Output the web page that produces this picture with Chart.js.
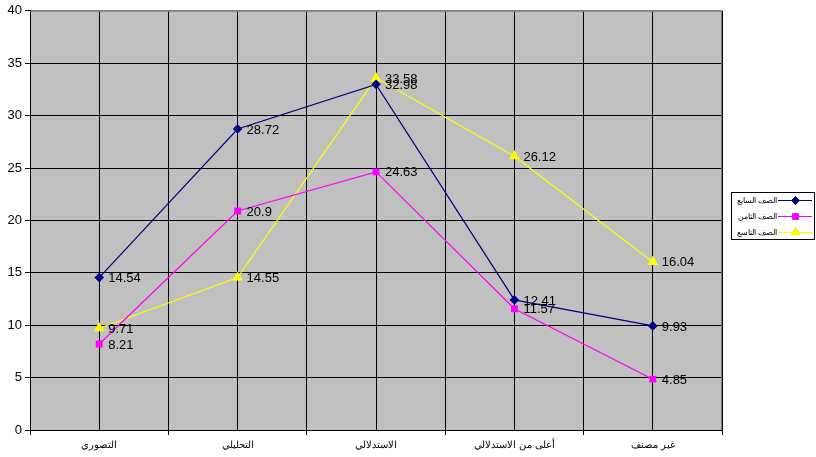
<!DOCTYPE html>
<html>
<head>
<meta charset="utf-8">
<script src="https://cdn.jsdelivr.net/npm/chart.js@4/dist/chart.umd.min.js"></script>
<style>
  html, body { margin: 0; padding: 0; background: #fff; }
  #wrap { width: 816px; height: 457px; }
</style>
</head>
<body>
<div id="wrap"><canvas id="grafico" width="816" height="457"></canvas></div>
<script>
const categorias = ['التصوري', 'التحليلي', 'الاستدلالي', 'أعلى من الاستدلالي', 'غير مصنف'];
const nombres = ['الصف السابع', 'الصف الثامن', 'الصف التاسع'];
const septimo = [14.54, 28.72, 32.98, 12.41, 9.93];
const octavo = [8.21, 20.9, 24.63, 11.57, 4.85];
const noveno = [9.71, 14.55, 33.58, 26.12, 16.04];
const colores = ['#000080', '#FF00FF', '#FFFF00'];
const marcas = ['rectRot', 'rect', 'triangle'];
const radios = [4, 4, 5];

const fuente = 'Arial, "Liberation Sans", sans-serif';

// fondo gris y marco
const fondo = {
    id: 'fondo',
    beforeDraw(chart) {
        const { ctx, chartArea: a } = chart;
        ctx.save();
        ctx.fillStyle = '#C0C0C0';
        ctx.fillRect(a.left, a.top, a.right - a.left, a.bottom - a.top);
        ctx.restore();
    },
    beforeDatasetsDraw(chart) {
        const { ctx, chartArea: a } = chart;
        ctx.save();
        ctx.strokeStyle = '#808080';
        ctx.lineWidth = 1;
        ctx.beginPath();
        ctx.moveTo(a.left, a.top + 0.5);
        ctx.lineTo(a.right - 0.5, a.top + 0.5);
        ctx.lineTo(a.right - 0.5, a.bottom);
        ctx.stroke();
        ctx.restore();
    }
};

// etiquetas de valor a la derecha de cada punto
const etiquetas = {
    id: 'etiquetas',
    afterDatasetsDraw(chart) {
        const { ctx } = chart;
        ctx.save();
        ctx.font = '13px ' + fuente;
        ctx.fillStyle = '#000';
        ctx.textAlign = 'left';
        ctx.textBaseline = 'middle';
        chart.data.datasets.forEach((ds, i) => {
            chart.getDatasetMeta(i).data.forEach((p, j) => {
                ctx.fillText(String(ds.data[j]), p.x + 9, p.y + 1);
            });
        });
        ctx.restore();
    }
};

// leyenda con recuadro
const leyenda = {
    id: 'leyenda',
    afterDraw(chart) {
        const { ctx } = chart;
        const x0 = 731, y0 = 192, w = 84, h = 48;
        ctx.save();
        ctx.fillStyle = '#fff';
        ctx.fillRect(x0, y0, w, h);
        ctx.strokeStyle = '#000';
        ctx.lineWidth = 1;
        ctx.strokeRect(x0 + 0.5, y0 + 0.5, w - 1, h - 1);
        ctx.font = '8px ' + fuente;
        ctx.textBaseline = 'middle';
        ctx.textAlign = 'right';
        nombres.forEach((n, i) => {
            const y = y0 + 8 + i * 16;
            ctx.fillStyle = '#000';
            ctx.fillText(n, 777, y + 1);
            ctx.strokeStyle = colores[i];
            ctx.beginPath();
            ctx.moveTo(778, y + 0.5);
            ctx.lineTo(812, y + 0.5);
            ctx.stroke();
            Chart.helpers.drawPoint(ctx, {
                pointStyle: marcas[i], radius: radios[i], rotation: 0, borderWidth: 1
            }, 795.5, y + 0.5);
            ctx.fillStyle = colores[i];
            ctx.fill();
        });
        ctx.restore();
    }
};

const series = [septimo, octavo, noveno].map((d, i) => ({
    label: nombres[i],
    data: d,
    borderColor: colores[i],
    backgroundColor: colores[i],
    borderWidth: 1.2,
    pointStyle: marcas[i],
    pointRadius: radios[i],
    pointBorderColor: colores[i],
    pointBackgroundColor: colores[i],
    tension: 0
}));

new Chart(document.getElementById('grafico').getContext('2d'), {
    type: 'line',
    data: { labels: categorias, datasets: series },
    options: {
        responsive: false,
        animation: false,
        layout: { padding: { top: 7, right: 94, left: 0, bottom: 0 } },
        plugins: {
            legend: { display: false },
            tooltip: { enabled: false }
        },
        scales: {
            x: {
                type: 'category',
                offset: true,
                position: 'bottom',
                grid: {
                    offset: true,
                    color: (c) => (c.index === 0 || c.index === categorias.length) ? 'rgba(0,0,0,0)' : '#000',
                    tickColor: '#000',
                    tickLength: 5,
                    lineWidth: 1
                },
                border: { display: true, color: '#000' },
                ticks: { color: '#000', font: { size: 10, family: fuente }, padding: 4, maxRotation: 0 },
                afterFit(s) { s.height = 27; }
            },
            x2: {
                type: 'category',
                labels: categorias,
                offset: true,
                position: 'bottom',
                grid: { offset: false, color: '#000', drawTicks: false, lineWidth: 1 },
                border: { display: false },
                ticks: { display: false },
                afterFit(s) { s.height = 0; }
            },
            y: {
                min: 0,
                max: 40,
                ticks: { stepSize: 5, color: '#000', font: { size: 13, family: fuente }, padding: 3 },
                grid: {
                    color: (c) => c.tick && c.tick.value === 40 ? '#808080' : '#000',
                    tickColor: '#000',
                    tickLength: 5,
                    lineWidth: 1
                },
                border: { display: true, color: '#000' },
                afterFit(s) { s.width = 30; }
            }
        }
    },
    plugins: [fondo, etiquetas, leyenda]
});
</script>
</body>
</html>
